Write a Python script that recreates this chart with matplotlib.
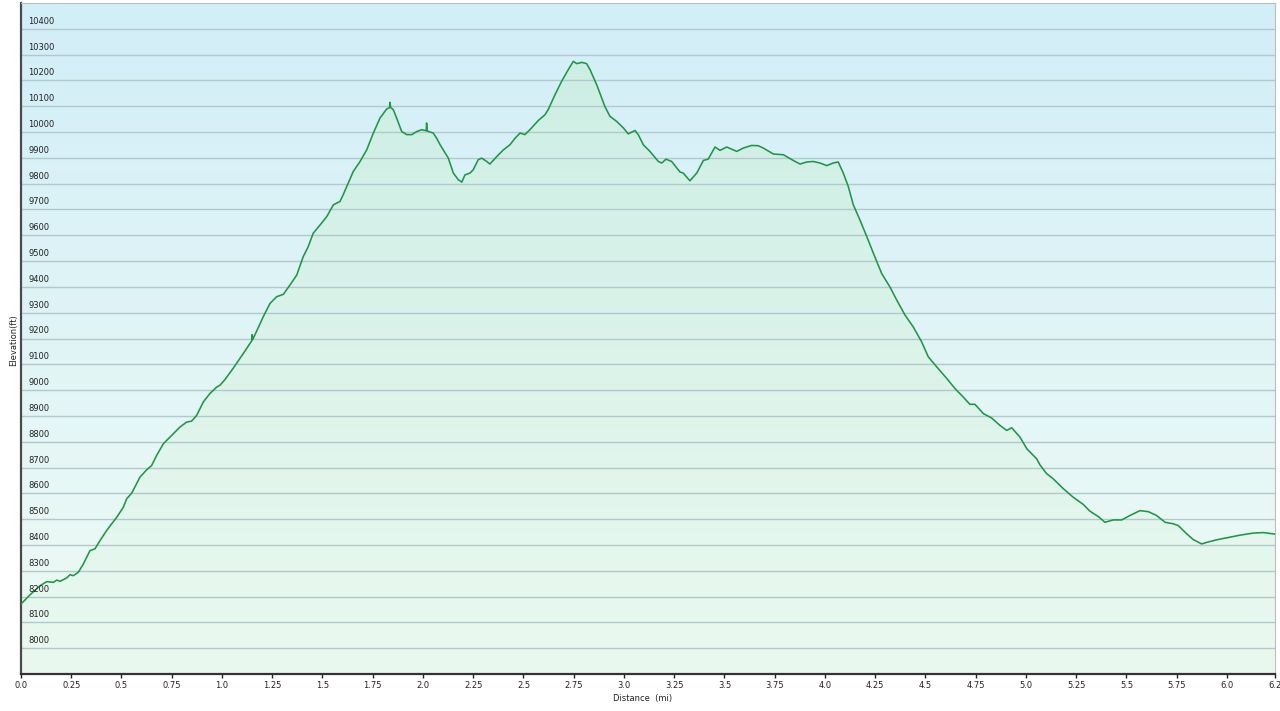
import numpy as np
import matplotlib.pyplot as plt
from matplotlib.colors import to_rgb
import matplotlib.transforms as mtransforms

# elevation profile (miles, feet)
distance = [0.0, 0.045, 0.095, 0.128, 0.161, 0.178, 0.194, 0.227, 0.244, 0.260,
            0.285, 0.310, 0.343, 0.368, 0.393, 0.426, 0.476, 0.509, 0.526, 0.551,
            0.592, 0.625, 0.650, 0.675, 0.708, 0.741, 0.791, 0.824, 0.849, 0.874,
            0.907, 0.940, 0.974, 0.990, 1.015, 1.056, 1.106, 1.148, 1.150, 1.153,
            1.205, 1.239, 1.272, 1.305, 1.338, 1.372, 1.404, 1.429, 1.454, 1.488,
            1.521, 1.554, 1.587, 1.603, 1.628, 1.653, 1.687, 1.720, 1.753, 1.786,
            1.819, 1.834, 1.836, 1.839, 1.852, 1.869, 1.894, 1.919, 1.944, 1.969,
            1.994, 2.016, 2.018, 2.021, 2.051, 2.068, 2.085, 2.126, 2.151, 2.176,
            2.193, 2.209, 2.234, 2.250, 2.275, 2.292, 2.317, 2.333, 2.367, 2.400,
            2.433, 2.458, 2.483, 2.507, 2.532, 2.574, 2.607, 2.623, 2.657, 2.690,
            2.723, 2.748, 2.765, 2.790, 2.814, 2.831, 2.864, 2.905, 2.930, 2.964,
            2.997, 3.021, 3.055, 3.071, 3.096, 3.129, 3.171, 3.188, 3.209, 3.237,
            3.279, 3.295, 3.328, 3.362, 3.395, 3.419, 3.453, 3.478, 3.511, 3.561,
            3.594, 3.635, 3.668, 3.693, 3.743, 3.793, 3.842, 3.876, 3.909, 3.942,
            3.975, 4.009, 4.041, 4.066, 4.091, 4.116, 4.141, 4.174, 4.208, 4.241,
            4.282, 4.323, 4.357, 4.398, 4.439, 4.481, 4.514, 4.556, 4.606, 4.647,
            4.688, 4.721, 4.746, 4.788, 4.829, 4.871, 4.904, 4.929, 4.970, 5.004,
            5.053, 5.070, 5.103, 5.136, 5.186, 5.235, 5.285, 5.318, 5.360, 5.393,
            5.434, 5.476, 5.517, 5.567, 5.609, 5.650, 5.692, 5.733, 5.758, 5.800,
            5.832, 5.874, 5.899, 5.949, 6.015, 6.065, 6.131, 6.181, 6.239]
elevation = [8171, 8207, 8242, 8258, 8255, 8264, 8259, 8272, 8285, 8281,
             8294, 8326, 8378, 8385, 8417, 8456, 8507, 8546, 8579, 8601,
             8663, 8691, 8708, 8747, 8792, 8818, 8857, 8876, 8880, 8902,
             8954, 8987, 9012, 9019, 9041, 9085, 9142, 9191, 9215, 9196,
             9284, 9336, 9362, 9371, 9407, 9446, 9517, 9556, 9608, 9640,
             9672, 9718, 9731, 9757, 9802, 9847, 9886, 9931, 9996, 10054,
             10089, 10095, 10115, 10095, 10087, 10054, 10002, 9990, 9990, 10002,
             10009, 10005, 10035, 10004, 9996, 9976, 9951, 9899, 9841, 9815,
             9806, 9834, 9841, 9854, 9893, 9899, 9886, 9876, 9905, 9931,
             9951, 9976, 9996, 9990, 10009, 10045, 10067, 10087, 10145, 10197,
             10242, 10274, 10265, 10270, 10265, 10242, 10184, 10099, 10061, 10041,
             10016, 9993, 10006, 9990, 9951, 9925, 9886, 9880, 9895, 9886,
             9845, 9841, 9811, 9841, 9890, 9895, 9942, 9929, 9942, 9925,
             9938, 9948, 9947, 9938, 9915, 9912, 9890, 9876, 9884, 9886,
             9880, 9870, 9880, 9884, 9841, 9789, 9718, 9659, 9595, 9530,
             9452, 9400, 9349, 9291, 9245, 9187, 9129, 9090, 9045, 9006,
             8973, 8945, 8945, 8909, 8892, 8863, 8844, 8854, 8818, 8773,
             8734, 8710, 8676, 8656, 8618, 8585, 8557, 8531, 8510, 8488,
             8497, 8497, 8514, 8533, 8529, 8514, 8488, 8482, 8475, 8443,
             8421, 8404, 8410, 8420, 8430, 8438, 8446, 8448, 8442]

y_ticks = list(range(8000, 10500, 100))
x_ticks = [i * 0.25 for i in range(25)]
x_tick_labels = [repr(t) for t in x_ticks]

x_min, x_max = 0.0, 6.239
y_min, y_max = 7900, 10500


def vertical_gradient(top, bottom, n=256):
    """RGB image (origin lower) going from bottom colour to top colour."""
    t = np.linspace(0, 1, n).reshape(-1, 1, 1)
    top = np.array(to_rgb(top)).reshape(1, 1, 3)
    bottom = np.array(to_rgb(bottom)).reshape(1, 1, 3)
    return bottom + (top - bottom) * t


fig = plt.figure(figsize=(12.8, 7.11), dpi=100)
ax = fig.add_axes([21 / 1280, 37 / 711, 1254 / 1280, 671 / 711])

extent = [x_min, x_max, y_min, y_max]

# sky-like background
ax.imshow(vertical_gradient('#d2eef8', '#effbf4'), extent=extent,
          aspect='auto', origin='lower', zorder=0, interpolation='bicubic')

# green fill under the profile
poly = ax.fill_between(distance, elevation, y_min, color='none', linewidth=0)
fill_img = ax.imshow(vertical_gradient('#c8eddb', '#e9f9ef'), extent=extent,
                     aspect='auto', origin='lower', zorder=1, alpha=0.7,
                     interpolation='bicubic')
fill_img.set_clip_path(poly.get_paths()[0], transform=ax.transData)

# horizontal grid lines
for v in y_ticks:
    ax.axhline(v, color='#b2c8cd', linewidth=1.0, zorder=2)

ax.plot(distance, elevation, color='#1f9647', linewidth=1.15, zorder=3)

# y labels sit inside the plot just above each grid line
label_tf = mtransforms.blended_transform_factory(ax.transAxes, ax.transData)
label_tf = label_tf + mtransforms.ScaledTranslation(0, 3 / 100, fig.dpi_scale_trans)
for v in y_ticks:
    ax.text(0.0056, v, str(v), transform=label_tf, fontsize=6,
            color='#222222', ha='left', va='bottom', zorder=4)

ax.set_xlim(x_min, x_max)
ax.set_ylim(y_min, y_max)
ax.set_yticks([])
ax.set_xticks(x_ticks + [x_max])
ax.set_xticklabels(x_tick_labels + ['6.2'])
ax.tick_params(axis='x', length=3, width=1, pad=2, labelsize=6,
               colors='#222222', direction='out')

ax.spines['left'].set_color('#4a4a4a')
ax.spines['left'].set_linewidth(1.6)
ax.spines['bottom'].set_color('#333333')
ax.spines['bottom'].set_linewidth(1.6)
ax.spines['top'].set_color('#bcbcbc')
ax.spines['right'].set_color('#bcbcbc')

fig.text(643 / 1280, 1 - 699 / 711, 'Distance  (mi)', fontsize=6,
         color='#222222', ha='center', va='center')
fig.text(14 / 1280, 1 - 340 / 711, 'Elevation(ft)', fontsize=6,
         color='#222222', ha='center', va='center', rotation=90)

fig.savefig('out.png', dpi=100, facecolor='white')
